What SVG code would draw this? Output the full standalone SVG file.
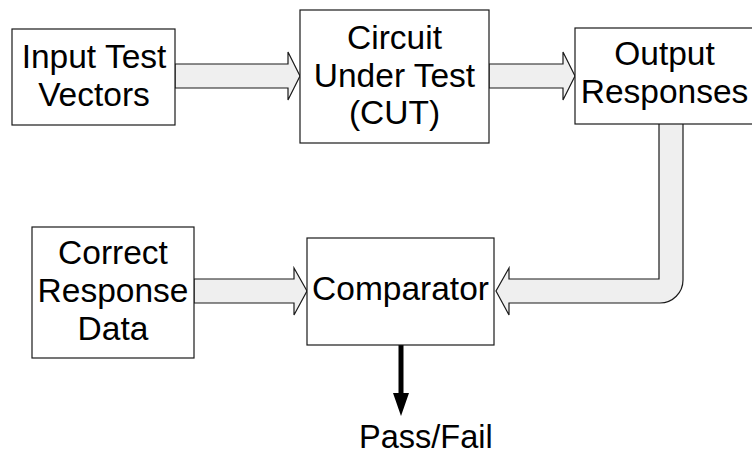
<svg xmlns="http://www.w3.org/2000/svg" width="752" height="454" viewBox="0 0 752 454">
<style>
.box{fill:#ffffff;stroke:#1a1a1a;stroke-width:1.2}
.blk{fill:#efefef;stroke:#1a1a1a;stroke-width:1.2;stroke-linejoin:miter}
text{font-family:"Liberation Sans",Arial,Helvetica,sans-serif;font-size:33.5px;fill:#000;text-anchor:middle}
</style>
<rect width="752" height="454" fill="#ffffff"/>
<g id="connectors">
<polygon class="blk" points="175,64 288,64 288,52 300,76 288,100 288,88 175,88"/>
<polygon class="blk" points="489,64 563,64 563,52 575,76 563,100 563,88 489,88"/>
<polygon class="blk" points="194,279 294,279 294,268 307,291 294,315 294,303 194,303"/>
<path class="blk" d="M659,124 L659,279 L509,279 L509,268 L496,291 L509,315 L509,303 L660,303 A23,23 0 0 0 683,280 L683,124"/>
<line x1="401" y1="345" x2="401" y2="395" stroke="#000" stroke-width="5"/>
<polygon points="393,393 409,393 401,416" fill="#000"/>
</g>
<g id="input">
<rect class="box" x="12" y="29" width="163" height="96"/>
<text x="94" y="68">Input Test</text>
<text x="94" y="106">Vectors</text>
</g>
<g id="cut">
<rect class="box" x="300" y="10" width="189" height="133"/>
<text x="394.5" y="49">Circuit</text>
<text x="394.5" y="87">Under Test</text>
<text x="394.5" y="124">(CUT)</text>
</g>
<g id="output">
<rect class="box" x="575" y="28" width="180" height="96"/>
<text x="664.5" y="65">Output</text>
<text x="664.5" y="103">Responses</text>
</g>
<g id="correct">
<rect class="box" x="32" y="227" width="162" height="131"/>
<text x="113" y="264">Correct</text>
<text x="113" y="302">Response</text>
<text x="113" y="340">Data</text>
</g>
<g id="comparator">
<rect class="box" x="307" y="238" width="187" height="107"/>
<text x="400.5" y="300">Comparator</text>
</g>
<g id="passfail">
<text x="359" y="448" style="text-anchor:start;font-size:32.5px">Pass/Fail</text>
</g>
</svg>
